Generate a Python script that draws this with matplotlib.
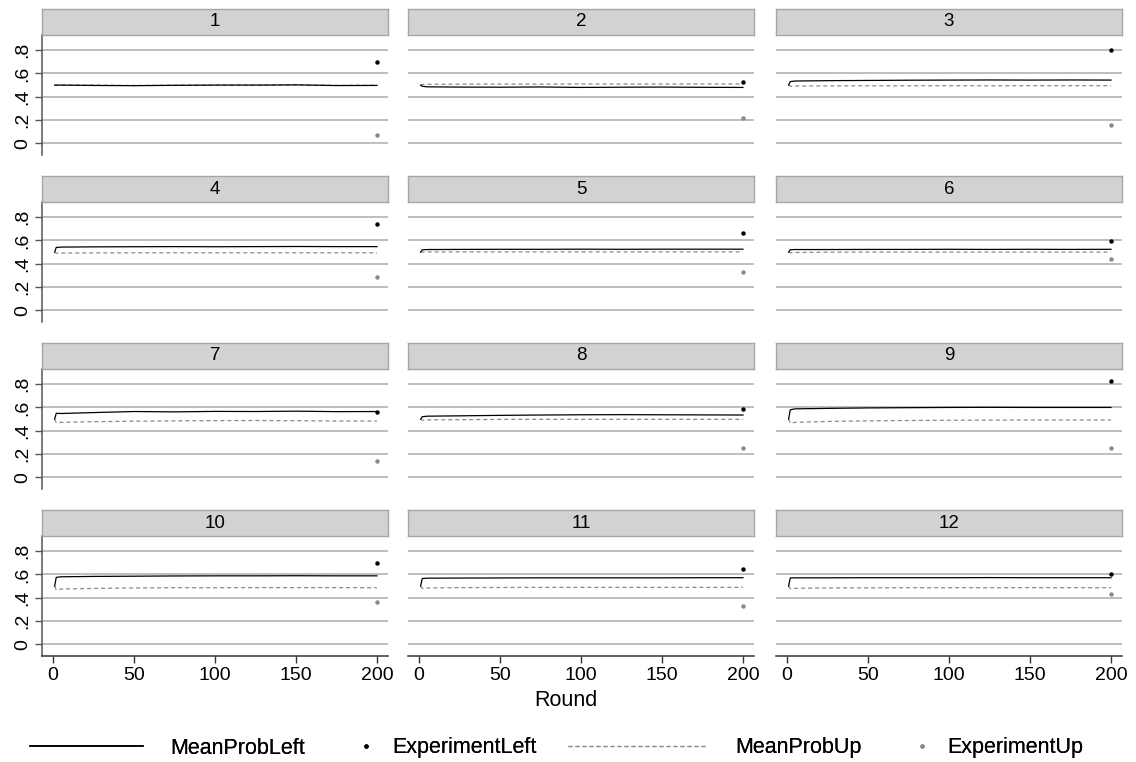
import matplotlib
matplotlib.use("Agg")
import matplotlib.pyplot as plt
from matplotlib.lines import Line2D

plt.rcParams['font.family'] = ['Liberation Sans', 'DejaVu Sans']

# rounds at which the simulated means were read off the picture
rounds = [1, 2, 5, 25, 50, 75, 100, 125, 150, 175, 200]

mean_left = {
    1: [0.50, 0.50, 0.50, 0.497, 0.495, 0.498, 0.500, 0.500, 0.502, 0.496, 0.497],
    2: [0.50, 0.49, 0.485, 0.483, 0.482, 0.484, 0.480, 0.482, 0.483, 0.481, 0.480],
    3: [0.50, 0.53, 0.535, 0.538, 0.540, 0.542, 0.543, 0.544, 0.543, 0.544, 0.543],
    4: [0.50, 0.54, 0.543, 0.545, 0.546, 0.547, 0.546, 0.547, 0.548, 0.547, 0.547],
    5: [0.50, 0.52, 0.522, 0.523, 0.524, 0.524, 0.525, 0.524, 0.525, 0.525, 0.525],
    6: [0.50, 0.52, 0.522, 0.522, 0.523, 0.523, 0.524, 0.523, 0.524, 0.523, 0.524],
    7: [0.50, 0.55, 0.548, 0.556, 0.565, 0.562, 0.566, 0.565, 0.568, 0.564, 0.565],
    8: [0.50, 0.52, 0.525, 0.528, 0.532, 0.535, 0.537, 0.538, 0.537, 0.536, 0.535],
    9: [0.50, 0.58, 0.588, 0.592, 0.596, 0.598, 0.600, 0.601, 0.600, 0.600, 0.600],
    10: [0.50, 0.575, 0.580, 0.583, 0.585, 0.587, 0.588, 0.588, 0.589, 0.588, 0.588],
    11: [0.50, 0.565, 0.568, 0.569, 0.570, 0.571, 0.571, 0.571, 0.571, 0.572, 0.572],
    12: [0.50, 0.57, 0.571, 0.571, 0.572, 0.572, 0.572, 0.573, 0.572, 0.572, 0.572],
}

mean_up = {
    1: [0.50, 0.50, 0.50, 0.500, 0.497, 0.499, 0.500, 0.500, 0.501, 0.498, 0.499],
    2: [0.50, 0.505, 0.507, 0.508, 0.509, 0.508, 0.510, 0.509, 0.509, 0.510, 0.510],
    3: [0.50, 0.49, 0.492, 0.493, 0.494, 0.494, 0.495, 0.494, 0.495, 0.495, 0.495],
    4: [0.50, 0.49, 0.492, 0.493, 0.494, 0.494, 0.494, 0.494, 0.494, 0.494, 0.494],
    5: [0.50, 0.50, 0.501, 0.502, 0.502, 0.502, 0.502, 0.502, 0.502, 0.502, 0.502],
    6: [0.50, 0.495, 0.497, 0.499, 0.500, 0.500, 0.500, 0.500, 0.500, 0.500, 0.500],
    7: [0.50, 0.47, 0.472, 0.478, 0.482, 0.485, 0.487, 0.488, 0.486, 0.484, 0.483],
    8: [0.50, 0.49, 0.493, 0.495, 0.497, 0.498, 0.498, 0.498, 0.498, 0.498, 0.498],
    9: [0.50, 0.465, 0.472, 0.480, 0.485, 0.488, 0.490, 0.491, 0.492, 0.492, 0.492],
    10: [0.50, 0.468, 0.475, 0.480, 0.484, 0.486, 0.486, 0.487, 0.487, 0.487, 0.486],
    11: [0.50, 0.48, 0.484, 0.487, 0.488, 0.489, 0.489, 0.489, 0.489, 0.489, 0.489],
    12: [0.50, 0.477, 0.481, 0.484, 0.485, 0.486, 0.486, 0.486, 0.487, 0.486, 0.486],
}

exp_round = 200
exp_left = [0.695, 0.528, 0.80, 0.738, 0.664, 0.594, 0.565, 0.586, 0.823, 0.70, 0.651, 0.603]
exp_up = [0.075, 0.22, 0.157, 0.284, 0.327, 0.44, 0.139, 0.251, 0.255, 0.363, 0.326, 0.434]

yticks = [0, 0.2, 0.4, 0.6, 0.8]
ytick_labels = ["0", ".2", ".4", ".6", ".8"]
xticks = [0, 50, 100, 150, 200]

W, H = 1136, 762
fig = plt.figure(figsize=(W / 100, H / 100), dpi=100)

col_left = [42, 408, 776]
row_top = [35, 202, 369, 536]
pw, ph, sh = 346, 120, 26

grey_dash = "#8a8a8a"
grid_col = "#b9b9b9"
axis_col = "#555555"

for i in range(12):
    r, c = divmod(i, 3)
    L, T = col_left[c], row_top[r]
    ax = fig.add_axes([L / W, 1 - (T + ph) / H, pw / W, ph / H])
    strip = fig.add_axes([L / W, 1 - T / H, pw / W, sh / H])
    strip.set_facecolor("#d2d2d2")
    for s in strip.spines.values():
        s.set_color("#a6a6a6")
        s.set_linewidth(1)
    strip.set_xticks([])
    strip.set_yticks([])
    strip.text(0.5, 0.5, str(i + 1), ha="center", va="center", fontsize=13.5)

    p = i + 1
    ax.plot(rounds, mean_up[p], color=grey_dash, lw=0.9, dashes=(3.2, 2.4))
    ax.plot(rounds, mean_left[p], color="black", lw=0.9)
    ax.plot([exp_round], [exp_left[i]], "o", color="black", ms=3.2, mew=0)
    ax.plot([exp_round], [exp_up[i]], "o", color=grey_dash, ms=3.2, mew=0)

    ax.set_xlim(-6.8, 206.8)
    ax.set_ylim(-0.1, 0.93)
    ax.set_yticks(yticks)
    ax.set_xticks(xticks)
    ax.yaxis.grid(True, color=grid_col, lw=1.3)
    ax.set_axisbelow(True)
    for s in ["top", "right"]:
        ax.spines[s].set_visible(False)

    if c == 0:
        ax.spines["left"].set_color(axis_col)
        ax.spines["left"].set_linewidth(1.1)
        ax.set_yticklabels(ytick_labels, rotation=90, va="center", fontsize=14)
        ax.tick_params(axis="y", length=5, width=1, color=axis_col, pad=3)
    else:
        ax.spines["left"].set_visible(False)
        ax.tick_params(axis="y", left=False, labelleft=False)

    if r == 3:
        ax.spines["bottom"].set_color("#333333")
        ax.spines["bottom"].set_linewidth(1.1)
        ax.tick_params(axis="x", length=5, width=1, color="#333333", labelsize=14, pad=3)
    else:
        ax.spines["bottom"].set_visible(False)
        ax.tick_params(axis="x", bottom=False, labelbottom=False)

fig.text(566 / W, 1 - 701 / H, "Round", ha="center", va="center", fontsize=15.5)

# legend: four separate entries so each key can have its own width
leg_y = 1 - 748 / H
entries = [
    (Line2D([], [], color="black", lw=1.1), "MeanProbLeft", 30, 5.26, 1.26),
    (Line2D([], [], ls="none", marker="o", color="black", ms=3.2, mew=0), "ExperimentLeft", 355, 1.0, 0.75),
    (Line2D([], [], color=grey_dash, lw=0.9, dashes=(3.2, 2.4)), "MeanProbUp", 568, 6.37, 1.4),
    (Line2D([], [], ls="none", marker="o", color=grey_dash, ms=3.2, mew=0), "ExperimentUp", 911, 1.0, 0.7),
]
for handle, label, x, hl, pad in entries:
    leg = fig.legend([handle], [label], loc="center left", bbox_to_anchor=(x / W, leg_y),
                     frameon=False, fontsize=15.5, handlelength=hl, handletextpad=pad,
                     borderpad=0, borderaxespad=0)
    fig.add_artist(leg)

fig.savefig("out.png", dpi=100)
